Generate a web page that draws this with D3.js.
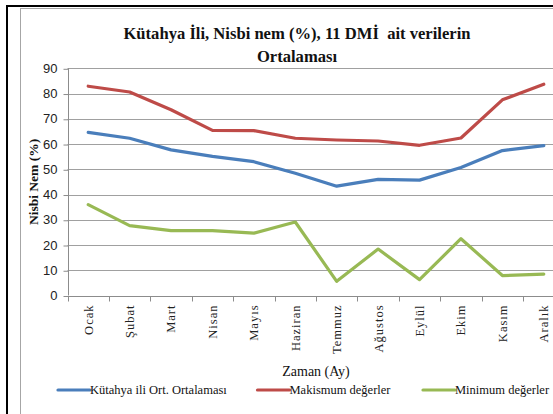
<!DOCTYPE html>
<html>
<head>
<meta charset="utf-8">
<script src="https://cdn.jsdelivr.net/npm/d3@7"></script>
<style>
  body { margin: 0; background: #fff; }
  svg { display: block; }
  .serif { font-family: "Liberation Serif", "Times New Roman", "DejaVu Serif", serif; }
  .narrow { font-family: "Liberation Sans Narrow", "Arial Narrow", "Liberation Sans", sans-serif; }
</style>
</head>
<body>
<div id="chart"></div>
<script>
// months on the x axis
var months = ["Ocak", "Şubat", "Mart", "Nisan", "Mayıs", "Haziran", "Temmuz", "Ağustos", "Eylül", "Ekim", "Kasım", "Aralık"];
// series
var ortalama = [64.6, 62.3, 57.7, 55.1, 53.0, 48.4, 43.3, 46.0, 45.7, 50.7, 57.4, 59.4];
var maksimum = [82.9, 80.6, 73.6, 65.4, 65.3, 62.3, 61.6, 61.2, 59.5, 62.4, 77.5, 83.7];
var minimum = [36.0, 27.7, 25.7, 25.7, 24.7, 29.1, 5.6, 18.4, 6.3, 22.5, 7.9, 8.5];
var yTicks = [0, 10, 20, 30, 40, 50, 60, 70, 80, 90];
var seriesNames = ["Kütahya ili Ort. Ortalaması", "Makismum değerler", "Minimum değerler"];

var series = [
  { name: seriesNames[0], values: ortalama, color: "#4a7ebb" },
  { name: seriesNames[1], values: maksimum, color: "#be4b48" },
  { name: seriesNames[2], values: minimum, color: "#98b954" }
];

var W = 553, H = 414;
var plot = { left: 67.5, right: 564.5, top: 68.3, bottom: 295.5 };

var svg = d3.select("#chart").append("svg")
  .attr("width", W)
  .attr("height", H);

svg.append("rect").attr("width", W).attr("height", H).attr("fill", "#fff");

// outer frame (document border + chart area border)
svg.append("rect")
  .attr("x", 20.5).attr("y", 8.5)
  .attr("width", 600).attr("height", 500)
  .attr("fill", "#fff")
  .attr("stroke", "#a6a6a6").attr("stroke-width", 1);
svg.append("rect").attr("x", 6).attr("y", 5).attr("width", W).attr("height", 2).attr("fill", "#000");
svg.append("rect").attr("x", 6).attr("y", 5).attr("width", 2).attr("height", H).attr("fill", "#000");

var x = d3.scaleBand()
  .domain(months)
  .range([plot.left, plot.right])
  .padding(0);

var y = d3.scaleLinear()
  .domain([0, 90])
  .range([plot.bottom, plot.top]);

// gridlines
svg.append("g")
  .selectAll("line")
  .data(yTicks.filter(function (d) { return d > 0; }))
  .enter().append("line")
  .attr("x1", plot.left).attr("x2", plot.right)
  .attr("y1", function (d) { return Math.round(y(d)) + 0.5; })
  .attr("y2", function (d) { return Math.round(y(d)) + 0.5; })
  .attr("stroke", "#a0a0a0")
  .attr("stroke-width", 1);

// y axis
var yAxis = svg.append("g")
  .attr("transform", "translate(" + (Math.round(plot.left) + 0.5) + ",0)")
  .call(d3.axisLeft(y).tickValues(yTicks).tickSize(5).tickPadding(6).tickFormat(d3.format("d")));
yAxis.attr("font-family", null).attr("font-size", null);
yAxis.selectAll("line").attr("stroke", "#8c8c8c").attr("transform", "translate(0,0.5)");
yAxis.select(".domain").attr("stroke", "#8c8c8c").attr("d", "M0," + plot.top + "V" + plot.bottom);
yAxis.selectAll("text")
  .attr("class", "narrow")
  .style("font-size", "13px")
  .attr("fill", "#222");

// x axis
var xAxis = svg.append("g")
  .attr("transform", "translate(0," + (Math.round(plot.bottom) + 0.5) + ")")
  .call(d3.axisBottom(x).tickSize(0).tickPadding(0));
xAxis.attr("font-family", null).attr("font-size", null);
xAxis.select(".domain").attr("stroke", "#8c8c8c").attr("d", "M" + plot.left + ",0H" + plot.right);
xAxis.selectAll(".tick text")
  .attr("class", "serif")
  .attr("transform", "rotate(-90)")
  .attr("text-anchor", "end")
  .attr("x", -8)
  .attr("y", 0)
  .attr("dy", "0.35em")
  .style("font-size", "12.5px")
  .style("letter-spacing", "1px")
  .attr("fill", "#222");

// tick marks between categories
xAxis.append("g")
  .selectAll("line")
  .data(d3.range(months.length + 1))
  .enter().append("line")
  .attr("x1", function (i) { return Math.round(plot.left + i * x.bandwidth()) + 0.5; })
  .attr("x2", function (i) { return Math.round(plot.left + i * x.bandwidth()) + 0.5; })
  .attr("y1", 0).attr("y2", 5)
  .attr("stroke", "#8c8c8c");

// lines
var line = d3.line()
  .x(function (d, i) { return x(months[i]) + x.bandwidth() / 2; })
  .y(function (d) { return y(d); });

svg.append("g")
  .selectAll("path")
  .data(series)
  .enter().append("path")
  .attr("d", function (s) { return line(s.values); })
  .attr("fill", "none")
  .attr("stroke", function (s) { return s.color; })
  .attr("stroke-width", 3.2)
  .attr("stroke-linejoin", "round")
  .attr("stroke-linecap", "round");

// title
var title = svg.append("text")
  .attr("class", "serif")
  .attr("x", 297)
  .attr("text-anchor", "middle")
  .style("font-weight", "bold")
  .style("font-size", "16.6px")
  .style("white-space", "pre")
  .attr("fill", "#111");
title.append("tspan").attr("x", 297).attr("y", 39).text("Kütahya İli, Nisbi nem (%), 11 DMİ  ait verilerin");
title.append("tspan").attr("x", 297).attr("y", 62).text("Ortalaması");

// axis titles
svg.append("text")
  .attr("class", "serif")
  .attr("transform", "translate(38," + ((plot.top + plot.bottom) / 2) + ") rotate(-90)")
  .attr("text-anchor", "middle")
  .style("font-weight", "bold")
  .style("font-size", "13.5px")
  .attr("fill", "#111")
  .text("Nisbi Nem (%)");

svg.append("text")
  .attr("class", "serif")
  .attr("x", 316)
  .attr("y", 376)
  .attr("text-anchor", "middle")
  .style("font-size", "14px")
  .attr("fill", "#111")
  .text("Zaman (Ay)");

// legend
var legendX = [58, 257.5, 423];
var legend = svg.append("g")
  .selectAll("g")
  .data(series)
  .enter().append("g")
  .attr("transform", function (s, i) { return "translate(" + legendX[i] + ",390)"; });
legend.append("line")
  .attr("x1", 0).attr("x2", 32)
  .attr("stroke", function (s) { return s.color; })
  .attr("stroke-width", 3.2)
  .attr("stroke-linecap", "round");
legend.append("text")
  .attr("class", "serif")
  .attr("x", 32)
  .attr("y", 4)
  .style("font-size", "12.5px")
  .attr("fill", "#111")
  .text(function (s) { return s.name; });
</script>
</body>
</html>
